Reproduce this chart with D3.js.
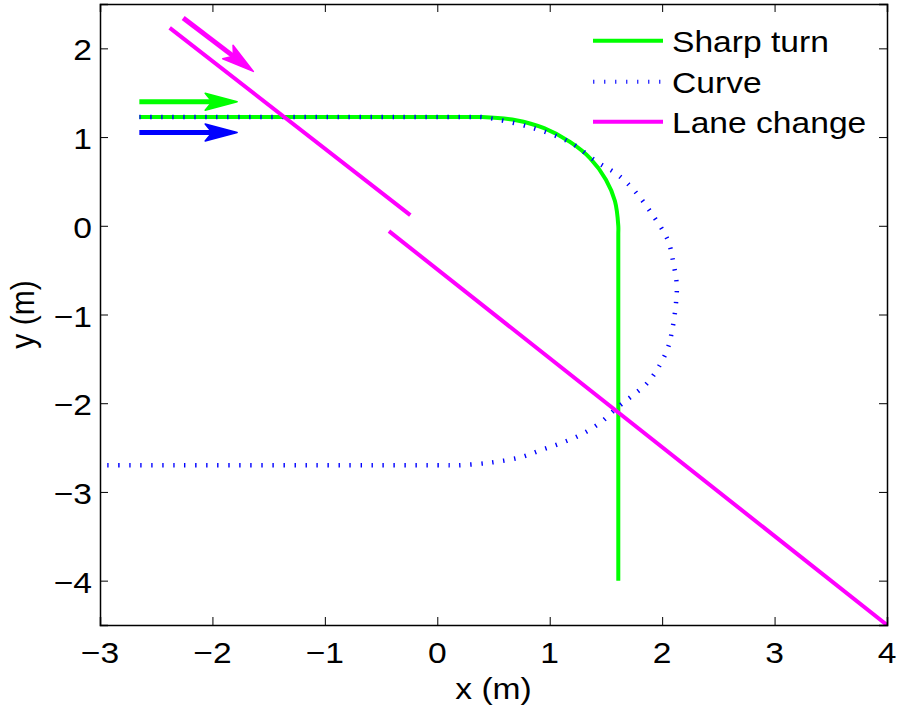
<!DOCTYPE html>
<html>
<head>
<meta charset="utf-8">
<script src="https://cdn.jsdelivr.net/npm/d3@7"></script>
<style>
  html, body { margin: 0; padding: 0; background: #fff; }
  svg { display: block; }
  text { font-family: "Liberation Sans", Arial, Helvetica, sans-serif; fill: #000; }
</style>
</head>
<body>
<svg id="chart" width="900" height="707"></svg>
<script>
// ---------------- data ----------------
const xTicks = [-3, -2, -1, 0, 1, 2, 3, 4];
const yTicks = [-4, -3, -2, -1, 0, 1, 2];
const xLabel = "x (m)";
const yLabel = "y (m)";
const seriesNames = ["Sharp turn", "Curve", "Lane change"];
const seriesColors = ["#00ff00", "#0000ff", "#ff00ff"];

// Sharp turn path
const sharpX = [-2.65, 0.30, 0.40, 0.70, 0.95, 1.18, 1.36, 1.50, 1.58, 1.61, 1.61, 1.61];
const sharpY = [1.225, 1.225, 1.225, 1.19, 1.10, 0.945, 0.76, 0.52, 0.28, 0.0, -0.1, -4.0];

// Curve path
const curveX = [-2.65, 0.30, 0.40, 0.83, 1.18, 1.42, 1.60, 1.75, 1.90, 2.05, 2.10, 2.13, 2.12, 2.09, 2.05, 1.97, 1.87, 1.74, 1.60, 1.45, 1.27, 1.10, 0.92, 0.74, 0.47, 0.18, 0.08, -3.0];
const curveY = [1.225, 1.225, 1.225, 1.11, 0.94, 0.72, 0.58, 0.40, 0.15, -0.16, -0.42, -0.67, -0.91, -1.17, -1.38, -1.59, -1.77, -1.91, -2.05, -2.22, -2.36, -2.45, -2.53, -2.61, -2.67, -2.70, -2.70, -2.70];

// Lane change path (null = gap)
const laneX = [-2.38, -0.24, null, -0.43, 4.0];
const laneY = [2.23, 0.12, null, -0.06, -4.5];

// Annotation arrows (start -> tip)
const arrowX0 = [-2.65, -2.65, -2.26];
const arrowY0 = [1.398, 1.052, 2.342];
const arrowX1 = [-1.78, -1.78, -1.636];
const arrowY1 = [1.398, 1.052, 1.740];
const arrowColors = ["#00ff00", "#0000ff", "#ff00ff"];

// ---------------- layout ----------------
const svg = d3.select("#chart");
const L = 100, R = 887, T = 4, B = 625;
const x = d3.scaleLinear().domain([-3, 4]).range([L, R]);
const y = d3.scaleLinear().domain([-4.5, 2.5]).range([B, T]);
const FS = 30, SX = 1.12;

function stretchedText(g, px, py, str, anchor, rot) {
  return g.append("text")
    .attr("transform", `translate(${px},${py}) scale(${SX},1)` + (rot ? ` rotate(${rot})` : ""))
    .attr("text-anchor", anchor)
    .attr("font-size", FS)
    .text(str);
}

const plot = svg.append("g");
plot.append("clipPath").attr("id", "clip").append("rect")
  .attr("x", L).attr("y", T).attr("width", R - L).attr("height", B - T);

const lineGen = d3.line()
  .defined(d => d[0] !== null && d[1] !== null)
  .x(d => x(d[0])).y(d => y(d[1]));

const zip = (a, b) => a.map((v, i) => [v, b[i]]);

const lines = plot.append("g").attr("clip-path", "url(#clip)");

lines.append("path")
  .attr("d", lineGen.curve(d3.curveCatmullRom.alpha(0.5))(zip(sharpX, sharpY)))
  .attr("fill", "none").attr("stroke", seriesColors[0]).attr("stroke-width", 4);

lines.append("path")
  .attr("d", lineGen.curve(d3.curveCatmullRom.alpha(0.5))(zip(curveX, curveY)))
  .attr("fill", "none").attr("stroke", seriesColors[1]).attr("stroke-width", 4.5)
  .attr("stroke-dasharray", "1.4,9.6");

lines.append("path")
  .attr("d", lineGen.curve(d3.curveLinear)(zip(laneX, laneY)))
  .attr("fill", "none").attr("stroke", seriesColors[2]).attr("stroke-width", 4);

// axes box
const axG = svg.append("g");
const xAxisB = d3.axisBottom(x).tickValues(xTicks).tickSize(-8).tickFormat("");
const xAxisT = d3.axisTop(x).tickValues(xTicks).tickSize(-8).tickFormat("");
const yAxisL = d3.axisLeft(y).tickValues(yTicks).tickSize(-8).tickFormat("");
const yAxisR = d3.axisRight(y).tickValues(yTicks).tickSize(-8).tickFormat("");
axG.append("g").attr("transform", `translate(0,${B})`).call(xAxisB);
axG.append("g").attr("transform", `translate(0,${T})`).call(xAxisT);
axG.append("g").attr("transform", `translate(${L},0)`).call(yAxisL);
axG.append("g").attr("transform", `translate(${R},0)`).call(yAxisR);
axG.selectAll(".domain").attr("stroke", "#000").attr("stroke-width", 1.5);
axG.selectAll(".tick line").attr("stroke", "#000").attr("stroke-width", 1);

// tick labels
const fmt = v => (v < 0 ? "\u2212" + Math.abs(v) : String(v));
const tl = svg.append("g");
xTicks.forEach(v => stretchedText(tl, x(v), 663, fmt(v), "middle"));
yTicks.forEach(v => stretchedText(tl, 92, y(v) + 12, fmt(v), "end"));

// axis labels
stretchedText(svg, (L + R) / 2, 699, xLabel, "middle");
stretchedText(svg, 34, (T + B) / 2, yLabel, "middle", -90);

// legend
const legY = [40.7, 81.7, 121.7];
const leg = svg.append("g");
seriesNames.forEach((name, i) => {
  const ln = leg.append("line")
    .attr("x1", 593).attr("x2", 663).attr("y1", legY[i]).attr("y2", legY[i])
    .attr("stroke", seriesColors[i]).attr("stroke-width", 4);
  if (i === 1) ln.attr("stroke-dasharray", "1.4,9.6").attr("stroke", "#3333ff");
  stretchedText(leg, 672, legY[i] + 11.5, name, "start");
});

// arrows
const arr = svg.append("g");
arrowX0.forEach((_, i) => {
  const px0 = x(arrowX0[i]), py0 = y(arrowY0[i]);
  const px1 = x(arrowX1[i]), py1 = y(arrowY1[i]);
  const ang = Math.atan2(py1 - py0, px1 - px0) * 180 / Math.PI;
  const len = Math.hypot(px1 - px0, py1 - py0);
  const g = arr.append("g").attr("transform", `translate(${px0},${py0}) rotate(${ang})`);
  g.append("line").attr("x1", 0).attr("y1", 0).attr("x2", len - 24).attr("y2", 0)
    .attr("stroke", arrowColors[i]).attr("stroke-width", 5);
  const hl = 32, hw = 8.5, notch = 25;
  g.append("path")
    .attr("d", `M${len},0 L${len - hl},${-hw} L${len - notch},0 L${len - hl},${hw} Z`)
    .attr("fill", arrowColors[i]).attr("stroke", arrowColors[i]).attr("stroke-width", 1.5)
    .attr("stroke-linejoin", "round");
});
</script>
</body>
</html>
